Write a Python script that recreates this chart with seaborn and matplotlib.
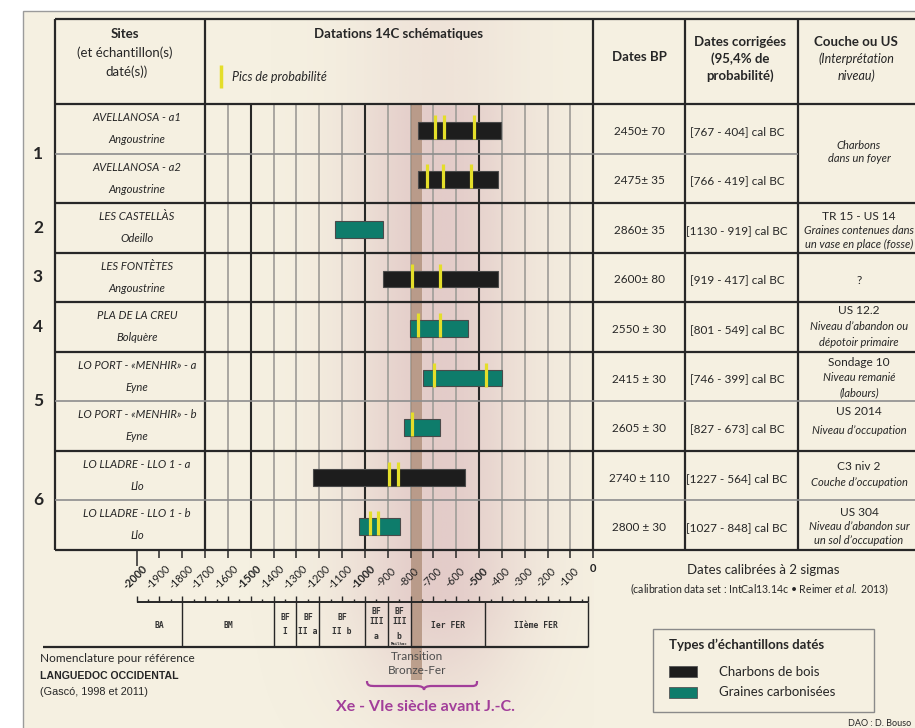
import numpy as np
import pandas as pd
import matplotlib
matplotlib.use("Agg")
import matplotlib.pyplot as plt
import seaborn as sns
from matplotlib.patches import Rectangle, PathPatch
from matplotlib.path import Path

sns.set_theme(style="white")
plt.rcParams["font.family"] = ["Lato", "DejaVu Sans"]
plt.rcParams["mathtext.fontset"] = "custom"
plt.rcParams["mathtext.rm"] = "Lato"
plt.rcParams["mathtext.it"] = "Lato:italic"

# ---------------- data ----------------
group_ids = [1, 1, 2, 3, 4, 5, 5, 6, 6]
site_names = ["AVELLANOSA - a1", "AVELLANOSA - a2", "LES CASTELLÀS", "LES FONTÈTES",
              "PLA DE LA CREU", "LO PORT - «MENHIR» - a", "LO PORT - «MENHIR» - b",
              "LO LLADRE - LLO 1 - a", "LO LLADRE - LLO 1 - b"]
communes = ["Angoustrine", "Angoustrine", "Odeillo", "Angoustrine", "Bolquère",
            "Eyne", "Eyne", "Llo", "Llo"]
sample_types = ["Charbons de bois", "Charbons de bois", "Graines carbonisées",
                "Charbons de bois", "Graines carbonisées", "Graines carbonisées",
                "Graines carbonisées", "Charbons de bois", "Graines carbonisées"]
dates_bp = ["2450± 70", "2475± 35", "2860± 35", "2600± 80", "2550 ± 30",
            "2415 ± 30", "2605 ± 30", "2740 ± 110", "2800 ± 30"]
cal_old = [767, 766, 1130, 919, 801, 746, 827, 1227, 1027]
cal_young = [404, 419, 919, 417, 549, 399, 673, 564, 848]
peak_years = [[-693, -654, -524], [-730, -657, -536], [], [-795, -671],
              [-768, -671], [-698, -471], [-795], [-896, -857], [-977, -943]]
couche_lines = [
    [("Charbons", "italic"), ("dans un foyer", "italic")],
    [("TR 15 - US 14", "normal"), ("Graines contenues dans", "italic"),
     ("un vase en place (fosse)", "italic")],
    [("?", "normal")],
    [("US 12.2", "normal"), ("Niveau d’abandon ou", "italic"), ("dépotoir primaire", "italic")],
    [("Sondage 10", "normal"), ("Niveau remanié", "italic"), ("(labours)", "italic")],
    [("US 2014", "normal"), ("Niveau d’occupation", "italic")],
    [("C3 niv 2", "normal"), ("Couche d’occupation", "italic")],
    [("US 304", "normal"), ("Niveau d’abandon sur", "italic"), ("un sol d’occupation", "italic")],
]
type_labels = ["Charbons de bois", "Graines carbonisées"]
period_labels = ["BA", "BM", "BF\nI", "BF\nII a", "BF\nII b", "BF\nIII\na", "BF\nIII\nb",
                 "Ier FER", "IIème FER"]
period_bounds = [-2000, -1800, -1400, -1300, -1200, -1000, -900, -800, -475, -25]
transition_band = [-800, -750]
tick_years = list(range(-2000, 1, 100))

# ---------------- layout & style ----------------
W, H = 915, 728
X0, KX = 593.3, 0.22833          # pixel of year 0, pixels per year
TOP, HEAD, BOT = 19, 104, 550
n = len(site_names)
ROW_H = (BOT - HEAD) / n
COLS = [55, 205, X0, 684.5, 798.3]
couche_y = [[145.5, 159], [216, 230.5, 244], [280], [311, 326.5, 343],
            [362.5, 377.5, 392.5], [411.5, 431], [466.5, 483], [512.5, 526.5, 540.5]]

CREAM = "#f5f0e1"
DARK = "#272727"
GRID = "#a4a19c"
THIN = "#8d8d8d"
YELLOW = "#e4de2a"
BAND = "#a8866f"
PURPLE = "#a23e9a"
TYPE_COLORS = {"Charbons de bois": "#1d1d1d", "Graines carbonisées": "#0e7c6b"}
NARROW = ["Liberation Sans Narrow", "Liberation Sans"]


def yr_of(px):
    return (px - X0) / KX


fig = plt.figure(figsize=(W / 100, H / 100), dpi=100)
fig.patch.set_facecolor("white")


def overlay(z, xlim):
    a = fig.add_axes([0, 0, 1, 1], zorder=z)
    a.set_xlim(*xlim)
    a.set_ylim(H, 0)
    a.axis("off")
    return a


bg = overlay(0, (0, W))
yr = overlay(1, (yr_of(0), yr_of(W)))
tx = overlay(2, (0, W))

# paper
bg.add_patch(Rectangle((23, 11), W, H, facecolor=CREAM, edgecolor="#9b9b9b", lw=1.0))

# rosy glow behind the chronology
gx = np.linspace(-1700, 0, 400)
gy = np.linspace(TOP, H, 360)
prof_x = np.exp(-0.5 * ((gx + 680) / 270) ** 2)
prof_y = np.where(gy < HEAD, 0.35, np.where(gy < 600, 1.0, 1.0 - 0.8 * (gy - 600) / (H - 600)))
rgba = np.zeros((len(gy), len(gx), 4))
rgba[..., 0], rgba[..., 1], rgba[..., 2] = 205 / 255, 158 / 255, 170 / 255
rgba[..., 3] = 0.44 * prof_y[:, None] * prof_x[None, :]
yr.imshow(rgba, extent=(-1700, 0, H, TOP), aspect="auto", origin="upper",
          interpolation="bilinear", zorder=0)

# Bronze-Iron transition band
yr.add_patch(Rectangle((transition_band[0], HEAD), transition_band[1] - transition_band[0],
                       680 - HEAD, facecolor=BAND, alpha=0.7, lw=0, zorder=1.5))

# century grid
for t in tick_years[1:-1]:
    if t <= -1700:
        continue
    major = t % 500 == 0
    yr.vlines(t, HEAD, BOT, color=DARK if major else GRID, lw=1.5 if major else 1.3, zorder=1)

# calibrated ranges
centers = [HEAD + (i + 0.5) * ROW_H + 1.5 for i in range(n)]
yr.barh(centers, [o - y for o, y in zip(cal_old, cal_young)], left=[-o for o in cal_old],
        height=16.7, color=[TYPE_COLORS[t] for t in sample_types],
        edgecolor="#4a4a4a", lw=0.8, zorder=3)

# probability peaks
peaks_df = pd.DataFrame([(p, centers[i] - 3.35) for i, pk in enumerate(peak_years) for p in pk],
                        columns=["year", "ypix"])
sns.scatterplot(data=peaks_df, x="year", y="ypix", marker="|", s=284, linewidth=2.3,
                color=YELLOW, ax=yr, legend=False, zorder=4)
yr.set_xlim(yr_of(0), yr_of(W))
yr.set_ylim(H, 0)
yr.axis("off")

# time scale below the table
for t in tick_years:
    yr.vlines(t, BOT, 566 if t == -2000 else 558, color=DARK, lw=1.1, zorder=2)
for t in tick_years[:-1]:
    yr.text(t - 6.6, 577, f"-{abs(t)}", rotation=45, ha="center", va="center", fontsize=7.8,
            weight="bold" if t % 500 == 0 else "normal", color="#222222", zorder=5)
yr.text(0, 568, "0", ha="center", va="center", fontsize=8, weight="bold", color="#222222")

yr.hlines(602, -2000, -25, color=DARK, lw=1.4)
for t in range(-2000, -25, 50):
    yr.vlines(t, 596 if t % 100 == 0 else 599, 602, color=DARK, lw=1.0)
yr.vlines(-25, 596, 602, color=DARK, lw=1.0)
yr.hlines(647, yr_of(43), -25, color=DARK, lw=1.6)
for b in period_bounds[1:]:
    yr.vlines(b, 602, 647, color=DARK, lw=1.0)
line_y = {1: [626], 2: [618, 631], 3: [611, 622, 636.5]}
for lab, a, b in zip(period_labels, period_bounds[:-1], period_bounds[1:]):
    parts = lab.split("\n")
    for p, yy in zip(parts, line_y[len(parts)]):
        yr.text((a + b) / 2, yy, p, ha="center", va="center", fontsize=5.8,
                family="DejaVu Sans Mono", weight="bold", color="#333333")
yr.text(-850, 644, "Mailhac", ha="center", va="center", fontsize=2.8,
        family="DejaVu Sans Mono", weight="bold", color="#333333")

# ---------------- table ----------------
tx.hlines([TOP, HEAD, BOT], COLS[0], W, color=DARK, lw=1.6)
tx.vlines(COLS, TOP, BOT, color=DARK, lw=1.6)
for i in range(n - 1):
    y = HEAD + (i + 1) * ROW_H
    if group_ids[i] != group_ids[i + 1]:
        tx.hlines(y, COLS[0], W, color=DARK, lw=1.6)
    else:
        tx.hlines(y, COLS[0], COLS[4] if i == 0 else W, color=THIN, lw=1.2)

# headers
tx.text(125, 34, "Sites", ha="center", va="center", fontsize=9.5, weight="bold")
tx.text(125, 53, "(et échantillon(s)", ha="center", va="center", fontsize=9.5)
tx.text(126, 72, "daté(s))", ha="center", va="center", fontsize=9.5)
tx.text(398, 34, "Datations 14C schématiques", ha="center", va="center", fontsize=9.5, weight="bold")
tx.vlines(221, 65, 88, color=YELLOW, lw=2.5)
tx.text(232, 77, "Pics de probabilité", ha="left", va="center", fontsize=9, style="italic")
tx.text(639, 57, "Dates BP", ha="center", va="center", fontsize=9.5, weight="bold")
for yy, s in zip([42, 59, 76], ["Dates corrigées", "(95,4% de", "probabilité)"]):
    tx.text(740, yy, s, ha="center", va="center", fontsize=9.5, weight="bold")
tx.text(856, 42, "Couche ou US", ha="center", va="center", fontsize=9.5, weight="bold")
tx.text(856, 59, "(Interprétation", ha="center", va="center", fontsize=9, style="italic")
tx.text(856, 76, "niveau)", ha="center", va="center", fontsize=9, style="italic")

# rows
for i in range(n):
    top = HEAD + i * ROW_H
    tx.text(137, top + 13.5, site_names[i], ha="center", va="center", fontsize=8.1, style="italic")
    tx.text(137, top + 35.5, communes[i], ha="center", va="center", fontsize=8.1, style="italic")
    mid = top + ROW_H / 2 + 2.5
    tx.text(639, mid, dates_bp[i], ha="center", va="center", fontsize=8.5)
    tx.text(737, mid, f"[{cal_old[i]} - {cal_young[i]}] cal BC", ha="center", va="center",
            fontsize=8.5)

for lines, ys in zip(couche_lines, couche_y):
    for (s, st), yy in zip(lines, ys):
        tx.text(859, yy, s, ha="center", va="center", fontsize=8.6 if st == "normal" else 8.0,
                style=st)

for g in sorted(set(group_ids)):
    idx = [i for i, gg in enumerate(group_ids) if gg == g]
    yy = np.mean([HEAD + (i + 0.5) * ROW_H for i in idx])
    tx.text(38, yy, str(g), ha="center", va="center", fontsize=12.5, weight="bold")

# ---------------- notes ----------------
tx.text(40, 659, "Nomenclature pour référence", ha="left", va="center", fontsize=8.5)
tx.text(40, 676, "LANGUEDOC OCCIDENTAL", ha="left", va="center", fontsize=7.6, weight="bold",
        family=NARROW)
tx.text(40, 692, "(Gascó, 1998 et 2011)", ha="left", va="center", fontsize=7.8, family=NARROW)

tx.text(417, 657, "Transition", ha="center", va="center", fontsize=8.5, color="#4d4d4d")
tx.text(417, 670, "Bronze-Fer", ha="center", va="center", fontsize=8.5, color="#4d4d4d")

brace = Path([(367, 681), (367, 686), (370, 686), (376, 686), (416, 686), (421, 686), (424, 687),
              (424, 690), (424, 687), (427, 686), (432, 686), (472, 686), (477, 686), (477, 684),
              (477, 681)],
             [Path.MOVETO, Path.CURVE4, Path.CURVE4, Path.CURVE4, Path.LINETO, Path.CURVE4,
              Path.CURVE4, Path.CURVE4, Path.CURVE4, Path.CURVE4, Path.CURVE4, Path.LINETO,
              Path.CURVE4, Path.CURVE4, Path.CURVE4])
tx.add_patch(PathPatch(brace, facecolor="none", edgecolor=PURPLE, lw=1.6))
tx.text(425, 707, "Xe - VIe siècle avant J.-C.", ha="center", va="center", fontsize=11.5,
        weight="bold", color=PURPLE)

tx.text(763, 570, "Dates calibrées à 2 sigmas", ha="center", va="center", fontsize=9.5)
tx.text(760, 589, r"(calibration data set : IntCal13.14c • Reimer $\mathit{et\ al.}$ 2013)",
        ha="center", va="center", fontsize=7.6)

# legend
tx.add_patch(Rectangle((653, 629), 221, 83, facecolor="none", edgecolor="#8a8a8a", lw=1.0))
tx.text(669, 645, "Types d’échantillons datés", ha="left", va="center", fontsize=9.5, weight="bold")
for k, lab in enumerate(type_labels):
    yk = 671.5 + k * 20.5
    tx.add_patch(Rectangle((669, yk - 5.5), 28, 11, facecolor=TYPE_COLORS[lab],
                           edgecolor="#555555", lw=0.6))
    tx.text(719, yk, lab, ha="left", va="center", fontsize=9.5)

tx.text(911, 723, "DAO : D. Bouso", ha="right", va="center", fontsize=6.5)

fig.savefig("out.png", dpi=100, facecolor="white")
